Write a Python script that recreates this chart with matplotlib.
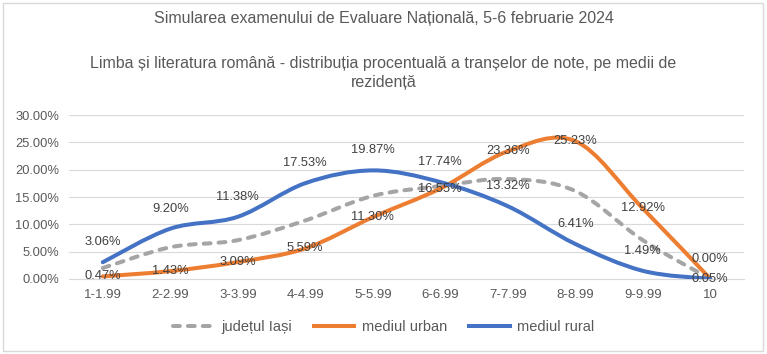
import numpy as np
import matplotlib
matplotlib.use("Agg")
import matplotlib.pyplot as plt
from matplotlib.path import Path
from matplotlib.patches import PathPatch, Rectangle
from matplotlib.lines import Line2D
from matplotlib.ticker import FuncFormatter

categories = ["1-1.99", "2-2.99", "3-3.99", "4-4.99", "5-5.99",
              "6-6.99", "7-7.99", "8-8.99", "9-9.99", "10"]
judet = [2.0, 5.8, 7.1, 10.7, 15.2, 17.0, 18.3, 16.1, 7.1, 0.02]
urban = [0.47, 1.43, 3.09, 5.59, 11.30, 16.55, 23.36, 25.23, 12.92, 0.05]
rural = [3.06, 9.20, 11.38, 17.53, 19.87, 17.74, 13.32, 6.41, 1.49, 0.00]
series_names = ["județul Iași", "mediul urban", "mediul rural"]

gray = "#A5A5A5"
orange = "#ED7D31"
blue = "#4472C4"
txt = "#595959"
arial = ["Liberation Sans", "DejaVu Sans"]


def smooth_path(xs, ys):
    # cubic bezier through every point, catmull-rom style tangents (like excel "smoothed line")
    pts = np.column_stack([xs, ys]).astype(float)
    n = len(pts)
    verts = [pts[0]]
    codes = [Path.MOVETO]
    for i in range(n - 1):
        p0 = pts[max(i - 1, 0)]
        p1 = pts[i]
        p2 = pts[i + 1]
        p3 = pts[min(i + 2, n - 1)]
        c1 = p1 + (p2 - p0) / 6.0
        c2 = p2 - (p3 - p1) / 6.0
        verts += [c1, c2, p2]
        codes += [Path.CURVE4] * 3
    return Path(verts, codes)


fig = plt.figure(figsize=(7.67, 3.54), dpi=100)
ax = fig.add_axes([0.09, 0.212, 0.88, 0.463])

x = np.arange(len(categories))
lw = 2.9
dash = (0, (1.7, 2.0))
ax.add_patch(PathPatch(smooth_path(x, judet), facecolor="none", edgecolor=gray, lw=lw,
                       linestyle=dash, capstyle="round", joinstyle="round", zorder=3))
ax.add_patch(PathPatch(smooth_path(x, urban), facecolor="none", edgecolor=orange, lw=lw,
                       capstyle="round", joinstyle="round", zorder=4))
ax.add_patch(PathPatch(smooth_path(x, rural), facecolor="none", edgecolor=blue, lw=lw,
                       capstyle="round", joinstyle="round", zorder=5))

# data labels: urban centred on the point, rural above it
for xi, v in zip(x, urban):
    ax.annotate(f"{v:.2f}%", (xi, v), xytext=(0, 0), textcoords="offset points",
                ha="center", va="center", fontsize=9.3, color="#404040",
                family=arial, zorder=6)
for xi, v in zip(x, rural):
    ax.annotate(f"{v:.2f}%", (xi, v), xytext=(0, 14.5), textcoords="offset points",
                ha="center", va="center", fontsize=9.3, color="#404040",
                family=arial, zorder=6)

ax.set_xlim(-0.5, len(categories) - 0.5)
ax.set_ylim(0, 30)
ax.set_yticks(np.arange(0, 31, 5))
ax.yaxis.set_major_formatter(FuncFormatter(lambda v, pos: f"{v:.2f}%"))
ax.set_xticks(x)
ax.set_xticklabels(categories)
for lab in ax.get_yticklabels():
    lab.set_family(arial)
    lab.set_fontsize(9.3)
    lab.set_color(txt)
for lab in ax.get_xticklabels():
    lab.set_family(arial)
    lab.set_fontsize(9.5)
    lab.set_color(txt)
ax.tick_params(length=0, pad=7)
ax.grid(axis="y", color="#D9D9D9", lw=0.8)
ax.set_axisbelow(True)
for s in ["top", "right", "left"]:
    ax.spines[s].set_visible(False)
ax.spines["bottom"].set_color("#D9D9D9")
ax.spines["bottom"].set_linewidth(0.8)

fig.text(0.5, 0.949, "Simularea examenului de Evaluare Națională, 5-6 februarie 2024",
         ha="center", va="center", fontsize=11.5, color=txt, family=arial)
fig.text(0.5, 0.822, "Limba și literatura română - distribuția procentuală a tranșelor de note, pe medii de",
         ha="center", va="center", fontsize=11.5, color=txt, family=arial)
fig.text(0.5, 0.768, "rezidență", ha="center", va="center", fontsize=11.5, color=txt, family=arial)

handles = [Line2D([], [], color=gray, lw=lw, linestyle=dash, dash_capstyle="round"),
           Line2D([], [], color=orange, lw=lw),
           Line2D([], [], color=blue, lw=lw)]
fig.legend(handles, series_names, loc="center", bbox_to_anchor=(0.5, 0.075), ncol=3,
           frameon=False, handlelength=2.8, columnspacing=1.5, handletextpad=0.5,
           prop={"family": arial, "size": 10.5}, labelcolor=txt)

fig.patches.append(Rectangle((0.004, 0.008), 0.991, 0.984, transform=fig.transFigure,
                             fill=False, edgecolor="#D9D9D9", lw=1.0))

fig.savefig("out.png", dpi=100)
